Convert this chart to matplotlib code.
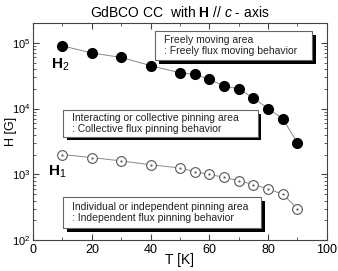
import matplotlib
matplotlib.use("Agg")
import matplotlib.pyplot as plt
from matplotlib.patches import Rectangle
from matplotlib.ticker import MultipleLocator, LogLocator, NullFormatter

plt.rcParams["font.family"] = ["Liberation Sans", "DejaVu Sans"]
plt.rcParams["mathtext.fontset"] = "custom"
plt.rcParams["mathtext.rm"] = "Liberation Sans"
plt.rcParams["mathtext.it"] = "Liberation Sans:italic"
plt.rcParams["mathtext.bf"] = "Liberation Sans:bold"

# temperatures [K]
T = [10, 20, 30, 40, 50, 55, 60, 65, 70, 75, 80, 85, 90]
# upper crossover field H2 [G]
H2 = [9.0e4, 7.0e4, 6.0e4, 4.5e4, 3.5e4, 3.3e4, 2.8e4, 2.2e4, 2.0e4, 1.45e4, 1.0e4, 7.0e3, 3.0e3]
# lower crossover field H1 [G]
H1 = [2000, 1800, 1600, 1400, 1250, 1100, 1000, 900, 800, 700, 600, 500, 300]

fig = plt.figure(figsize=(3.38, 2.71), dpi=100)
ax = fig.add_axes([0.098, 0.114, 0.869, 0.801])

ax.plot(T, H2, "-", color="#888888", lw=0.7, zorder=2)
ax.plot(T, H2, "o", ms=7, mfc="black", mec="black", zorder=3)
ax.plot(T, H1, "-", color="#888888", lw=0.7, zorder=2)
ax.plot(T, H1, "o", ms=7, mfc="white", mec="#555555", mew=0.8, zorder=3)
ax.plot(T, H1, ".", ms=1.2, color="#555555", zorder=4)

ax.set_yscale("log")
ax.set_xlim(0, 100)
ax.set_ylim(100, 2e5)
ax.xaxis.set_major_locator(MultipleLocator(20))
ax.xaxis.set_minor_locator(MultipleLocator(10))
ax.yaxis.set_major_locator(LogLocator(base=10, numticks=10))
ax.yaxis.set_minor_locator(LogLocator(base=10, subs=range(2, 10), numticks=10))
ax.yaxis.set_minor_formatter(NullFormatter())
ax.tick_params(which="both", direction="in", top=True, right=True, color="#444444")
ax.tick_params(axis="x", labelsize=9, pad=3)
ax.tick_params(axis="y", labelsize=8, pad=2)
ax.tick_params(which="major", length=4)
ax.tick_params(which="minor", length=2)
for s in ax.spines.values():
    s.set_color("#444444")

ax.set_xlabel("T [K]", fontsize=10, labelpad=-2)
ax.set_ylabel("H [G]", fontsize=9)
ax.yaxis.set_label_coords(-0.055, 0.5)
ax.set_title(r"GdBCO CC  with $\mathbf{H}$ // $\mathit{c}$ - axis", fontsize=10, pad=4)

ax.text(6, 4.6e4, r"H$_2$", fontsize=11, fontweight="bold", va="center")
ax.text(5, 1.1e3, r"H$_1$", fontsize=11, fontweight="bold", va="center")

boxes = [
    (0.415, 0.829, 0.535, 0.134, "Freely moving area\n: Freely flux moving behavior"),
    (0.102, 0.475, 0.663, 0.124, "Interacting or collective pinning area\n: Collective flux pinning behavior"),
    (0.102, 0.055, 0.675, 0.143, "Individual or independent pinning area\n: Independent flux pinning behavior"),
]
for x0, y0, w, h, txt in boxes:
    ax.add_patch(Rectangle((x0 + 0.012, y0 - 0.016), w, h, transform=ax.transAxes,
                           facecolor="black", edgecolor="none", zorder=5))
    ax.add_patch(Rectangle((x0, y0), w, h, transform=ax.transAxes,
                           facecolor="white", edgecolor="#666666", lw=0.8, zorder=6))
    ax.text(x0 + 0.03, y0 + h / 2, txt, transform=ax.transAxes, fontsize=7.5,
            va="center", ha="left", linespacing=1.15, zorder=7, color="#222222")

fig.savefig("out.png", dpi=100)
